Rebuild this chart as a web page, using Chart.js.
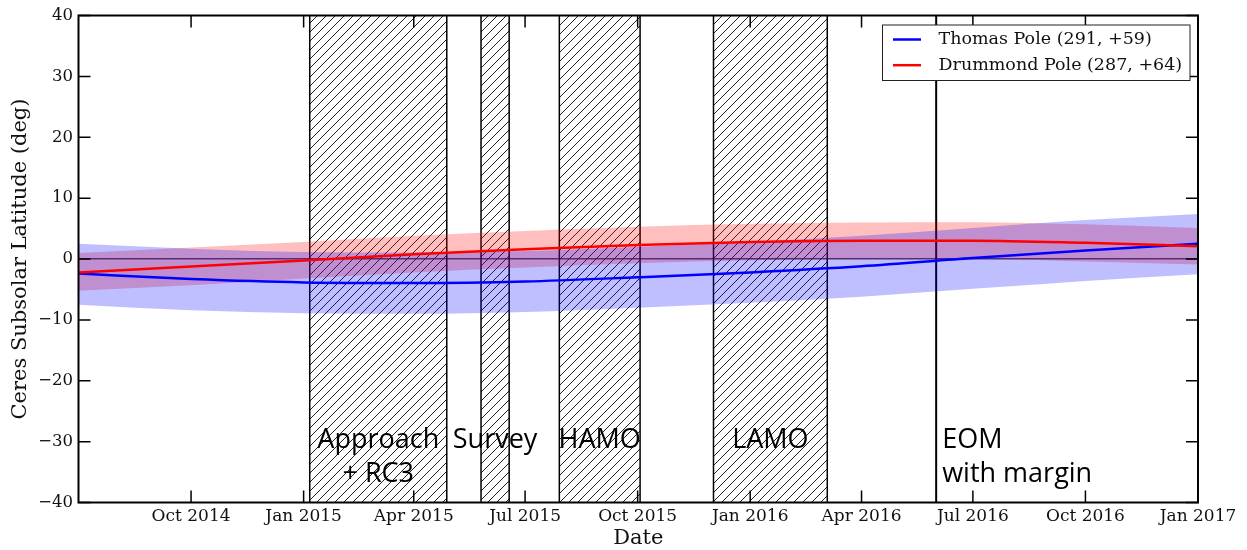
<!DOCTYPE html>
<html>
<head>
<meta charset="utf-8">
<script src="https://cdn.jsdelivr.net/npm/chart.js@4.4.1/dist/chart.umd.min.js"></script>
<style>
  html, body { margin: 0; padding: 0; background: #fff; }
  #wrap { width: 1247px; height: 550px; }
</style>
</head>
<body>
<div id="wrap"><canvas id="chart" width="1247" height="550"></canvas></div>
<script>
// sample dates and values
const xRange = ['2014-07-01', '2017-01-01'];
const sampleDates = ['2014-07-01', '2014-10-01', '2015-01-01', '2015-04-01', '2015-07-01', '2015-10-01',
                     '2016-01-01', '2016-04-01', '2016-07-01', '2016-10-01', '2017-01-01'];
const thomasLat     = [-2.4, -3.3, -3.85, -3.95, -3.7, -3.0, -2.2, -1.2, 0.15, 1.4, 2.5];
const thomasUpper   = [2.5, 1.7, 1.15, 1.05, 1.3, 2.0, 2.8, 3.8, 5.1, 6.4, 7.4];
const thomasLower   = [-7.5, -8.4, -8.9, -9.0, -8.7, -8.0, -7.2, -6.2, -4.9, -3.6, -2.5];
const drummondLat   = [-2.2, -1.25, -0.25, 0.8, 1.6, 2.3, 2.8, 3.0, 3.0, 2.65, 2.1];
const drummondUpper = [1.0, 1.9, 2.8, 3.8, 4.6, 5.3, 5.8, 6.0, 6.05, 5.7, 5.1];
const drummondLower = [-5.2, -4.3, -3.2, -2.2, -1.4, -0.7, -0.2, 0.0, 0.0, -0.4, -0.9];

const tickDates  = ['2014-10-01', '2015-01-01', '2015-04-01', '2015-07-01', '2015-10-01',
                    '2016-01-01', '2016-04-01', '2016-07-01', '2016-10-01', '2017-01-01'];
const tickLabels = ['Oct 2014', 'Jan 2015', 'Apr 2015', 'Jul 2015', 'Oct 2015',
                    'Jan 2016', 'Apr 2016', 'Jul 2016', 'Oct 2016', 'Jan 2017'];

// mission phases (hatched)
const phaseNames = [['Approach', '+ RC3'], ['Survey'], ['HAMO'], ['LAMO']];
const phaseStart = ['2015-01-06', '2015-05-26', '2015-07-29', '2015-12-02'];
const phaseEnd   = ['2015-04-28', '2015-06-18', '2015-10-03', '2016-03-04'];
const eomDate  = '2016-06-01';
const eomLabel = ['EOM', 'with margin'];

const day = s => Date.UTC(+s.slice(0, 4), +s.slice(5, 7) - 1, +s.slice(8, 10)) / 86400000;
const pts = vals => sampleDates.map((d, i) => ({ x: day(d), y: vals[i] }));

const SERIF = '"DejaVu Serif", serif';
const INK = '#111';

function makeHatch(ctx) {
  const c = document.createElement('canvas');
  c.width = 9; c.height = 9;
  const g = c.getContext('2d');
  g.strokeStyle = '#222';
  g.lineWidth = 1;
  g.beginPath();
  g.moveTo(0, 9); g.lineTo(9, 0);
  g.moveTo(-1, 1); g.lineTo(1, -1);
  g.moveTo(8, 10); g.lineTo(10, 8);
  g.stroke();
  return ctx.createPattern(c, 'repeat');
}

const phasesPlugin = {
  id: 'phases',
  beforeDatasetsDraw(chart) {
    const { ctx, chartArea: a, scales: { x } } = chart;
    const pat = makeHatch(ctx);
    ctx.save();
    phaseStart.forEach((s, i) => {
      const x0 = x.getPixelForValue(day(s));
      const x1 = x.getPixelForValue(day(phaseEnd[i]));
      ctx.fillStyle = pat;
      ctx.fillRect(x0, a.top, x1 - x0, a.bottom - a.top);
      ctx.strokeStyle = '#000';
      ctx.lineWidth = 1.5;
      ctx.beginPath();
      ctx.moveTo(x0, a.top); ctx.lineTo(x0, a.bottom);
      ctx.moveTo(x1, a.top); ctx.lineTo(x1, a.bottom);
      ctx.stroke();
    });
    const xe = x.getPixelForValue(day(eomDate));
    ctx.lineWidth = 2;
    ctx.beginPath();
    ctx.moveTo(xe, a.top); ctx.lineTo(xe, a.bottom);
    ctx.stroke();
    ctx.restore();
  },
  afterDatasetsDraw(chart) {
    const { ctx, scales: { x, y } } = chart;
    const y0 = y.getPixelForValue(-31);
    ctx.save();
    ctx.font = '27px "Open Sans", sans-serif';
    ctx.fillStyle = '#000';
    ctx.textBaseline = 'alphabetic';
    ctx.textAlign = 'center';
    phaseNames.forEach((lines, i) => {
      const xc = (x.getPixelForValue(day(phaseStart[i])) + x.getPixelForValue(day(phaseEnd[i]))) / 2;
      lines.forEach((t, k) => ctx.fillText(t, xc, y0 + k * 34));
    });
    ctx.textAlign = 'left';
    const xe = x.getPixelForValue(day(eomDate)) + 6;
    eomLabel.forEach((t, k) => ctx.fillText(t, xe, y0 + k * 34));
    ctx.restore();
  }
};

const framePlugin = {
  id: 'frame',
  afterDraw(chart) {
    const { ctx, chartArea: a, scales: { x, y } } = chart;
    ctx.save();
    ctx.strokeStyle = '#000';
    ctx.lineWidth = 1.5;
    ctx.beginPath();
    x.ticks.forEach(t => {
      const px = x.getPixelForValue(t.value);
      ctx.moveTo(px, a.bottom); ctx.lineTo(px, a.bottom - 12);
      ctx.moveTo(px, a.top); ctx.lineTo(px, a.top + 12);
    });
    y.ticks.forEach(t => {
      const py = y.getPixelForValue(t.value);
      ctx.moveTo(a.left, py); ctx.lineTo(a.left + 12, py);
      ctx.moveTo(a.right, py); ctx.lineTo(a.right - 12, py);
    });
    ctx.stroke();
    ctx.lineWidth = 2;
    ctx.strokeRect(a.left, a.top, a.right - a.left, a.bottom - a.top);

    // legend, in dataset order
    const lines = chart.data.datasets.filter(d => d.inLegend);
    const bx = 882.5, by = 25, bw = 307.5, bh = 55.5;
    ctx.fillStyle = '#fff';
    ctx.fillRect(bx, by, bw, bh);
    ctx.lineWidth = 1;
    ctx.strokeStyle = '#222';
    ctx.strokeRect(bx, by, bw, bh);
    ctx.font = '17.5px ' + SERIF;
    ctx.textBaseline = 'middle';
    ctx.textAlign = 'left';
    lines.forEach((d, i) => {
      const ly = by + 14.5 + i * 25.7;
      ctx.strokeStyle = d.borderColor;
      ctx.lineWidth = 2.5;
      ctx.beginPath();
      ctx.moveTo(bx + 10.5, ly); ctx.lineTo(bx + 38.5, ly);
      ctx.stroke();
      ctx.fillStyle = INK;
      ctx.fillText(d.label, bx + 56, ly);
    });
    ctx.restore();
  }
};

const band = (vals, fill, color) => ({
  data: pts(vals), fill: fill, backgroundColor: color, borderWidth: 0,
  pointRadius: 0, cubicInterpolationMode: 'monotone', order: 5
});

new Chart(document.getElementById('chart'), {
  type: 'line',
  data: {
    datasets: [
      { label: 'Thomas Pole (291, +59)', data: pts(thomasLat), borderColor: '#0000ff', borderWidth: 2.5,
        pointRadius: 0, fill: false, cubicInterpolationMode: 'monotone', order: 1, inLegend: true },
      { label: 'Drummond Pole (287, +64)', data: pts(drummondLat), borderColor: '#ff0000', borderWidth: 2.5,
        pointRadius: 0, fill: false, cubicInterpolationMode: 'monotone', order: 0, inLegend: true },
      band(thomasUpper, '+1', 'rgba(0,0,255,0.25)'),
      band(thomasLower, false, 'rgba(0,0,0,0)'),
      band(drummondUpper, '+1', 'rgba(255,0,0,0.25)'),
      band(drummondLower, false, 'rgba(0,0,0,0)')
    ]
  },
  options: {
    responsive: false,
    animation: false,
    layout: { padding: { top: 15.5, right: 49, left: 0, bottom: 0 } },
    plugins: { legend: { display: false }, tooltip: { enabled: false } },
    scales: {
      x: {
        type: 'linear',
        min: day(xRange[0]),
        max: day(xRange[1]),
        afterBuildTicks: s => { s.ticks = tickDates.map(d => ({ value: day(d) })); },
        afterFit: s => { s.height = 47.5; },
        ticks: {
          autoSkip: false, maxRotation: 0, padding: 4, color: INK,
          font: { family: SERIF, size: 17 },
          callback: v => tickLabels[tickDates.findIndex(d => day(d) === v)]
        },
        grid: { display: false, drawTicks: false },
        border: { display: false },
        title: { display: true, text: 'Date', color: INK, padding: 0,
                 font: { family: SERIF, size: 21, lineHeight: 1.1 } }
      },
      y: {
        min: -40, max: 40,
        afterFit: s => { s.width = 78.5; },
        ticks: {
          stepSize: 10, padding: 5.5, color: INK,
          font: { family: SERIF, size: 16.5 },
          callback: v => v < 0 ? '\u2212' + Math.abs(v) : String(v)
        },
        grid: {
          drawTicks: false, lineWidth: 1.5,
          color: c => (c.tick && c.tick.value === 0) ? 'rgba(0,0,0,0.7)' : 'rgba(0,0,0,0)'
        },
        border: { display: false },
        title: { display: true, text: 'Ceres Subsolar Latitude (deg)', color: INK,
                 padding: { top: 8, bottom: 0 },
                 font: { family: SERIF, size: 21, lineHeight: 1.2 } }
      }
    }
  },
  plugins: [phasesPlugin, framePlugin]
});
</script>
</body>
</html>
